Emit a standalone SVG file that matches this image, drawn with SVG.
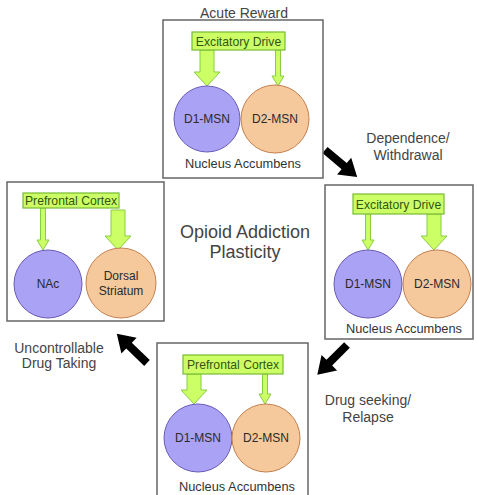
<svg xmlns="http://www.w3.org/2000/svg" xmlns:xlink="http://www.w3.org/1999/xlink" width="477" height="495" viewBox="0 0 477 495">
<style>
text{font-family:"Liberation Sans",Arial,sans-serif;fill:#333;text-anchor:middle}
.lbl{font-size:14px;fill:#444}
.title{font-size:18px;fill:#444}
.small{font-size:12.8px}
.cell{font-size:12px;fill:#2a2a2a}
.gtxt{font-size:12.2px;fill:#335511}
.box{fill:#fff;stroke:#666;stroke-width:1.5}
.gbox{fill:#ccff66;stroke:#77bb33;stroke-width:1.2}
.garrow{fill:#ccff66;stroke:#88cc44;stroke-width:1}
.d1{fill:#a9a2f5;stroke:#6a5cb8;stroke-width:1}
.d2{fill:#f5c99c;stroke:#c4804f;stroke-width:1}
.barrow{fill:#000}
</style>
<defs>
<path id="ba" d="M0,-4 L25,-4 L25,-11 L42,0 L25,11 L25,4 L0,4 Z"/>
</defs>
<rect width="477" height="495" fill="#fff"/>

<g id="connectors">
<use xlink:href="#ba" href="#ba" class="barrow" transform="translate(325,150) rotate(40)"/>
<use xlink:href="#ba" href="#ba" class="barrow" transform="translate(347,345) rotate(135)"/>
<use xlink:href="#ba" href="#ba" class="barrow" transform="translate(147,363) rotate(224)"/>
<text class="lbl" x="244" y="18">Acute Reward</text>
<text class="lbl" x="408" y="143">Dependence/</text>
<text class="lbl" x="408" y="160">Withdrawal</text>
<text class="lbl" x="368" y="405">Drug seeking/</text>
<text class="lbl" x="368" y="422">Relapse</text>
<text class="lbl" x="59" y="353">Uncontrollable</text>
<text class="lbl" x="59" y="368">Drug Taking</text>
</g>

<g id="center-title">
<text class="title" x="245" y="238">Opioid Addiction</text>
<text class="title" x="245" y="258">Plasticity</text>
</g>

<g id="acute-reward">
<rect class="box" x="163" y="20" width="160" height="158"/>
<polygon class="garrow" points="200,50 214,50 214,72 220,72 207,86 194,72 200,72"/>
<polygon class="garrow" points="275.5,50 280.5,50 280.5,76 284,76 278,86 272,76 275.5,76"/>
<rect class="gbox" x="192" y="32" width="93" height="18"/>
<text class="gtxt" x="238.5" y="45.5">Excitatory Drive</text>
<circle class="d1" cx="207" cy="119" r="33"/>
<circle class="d2" cx="275" cy="119" r="34"/>
<text class="cell" x="207" y="123">D1-MSN</text>
<text class="cell" x="275" y="123">D2-MSN</text>
<text class="small" x="243" y="168">Nucleus Accumbens</text>
</g>

<g id="dependence">
<rect class="box" x="325" y="185" width="148" height="154"/>
<polygon class="garrow" points="365.5,214 370.5,214 370.5,240 374,240 368,250 362,240 365.5,240"/>
<polygon class="garrow" points="427,214 441,214 441,236 447,236 434,250 421,236 427,236"/>
<rect class="gbox" x="353" y="194" width="91" height="20"/>
<text class="gtxt" x="398.5" y="208.5">Excitatory Drive</text>
<circle class="d1" cx="368" cy="284" r="34"/>
<circle class="d2" cx="437" cy="284" r="34"/>
<text class="cell" x="368" y="288">D1-MSN</text>
<text class="cell" x="437" y="288">D2-MSN</text>
<text class="small" x="404" y="333">Nucleus Accumbens</text>
</g>

<g id="drug-seeking">
<rect class="box" x="157" y="343" width="151" height="160"/>
<polygon class="garrow" points="187,374 201,374 201,390 207,390 194,404 181,390 187,390"/>
<polygon class="garrow" points="262.5,374 267.5,374 267.5,394 271,394 265,404 259,394 262.5,394"/>
<rect class="gbox" x="183" y="355" width="100" height="19"/>
<text class="gtxt" x="233" y="369">Prefrontal Cortex</text>
<circle class="d1" cx="198" cy="438" r="34"/>
<circle class="d2" cx="266" cy="438" r="34"/>
<text class="cell" x="198" y="442">D1-MSN</text>
<text class="cell" x="266" y="442">D2-MSN</text>
<text class="small" x="237" y="491">Nucleus Accumbens</text>
</g>

<g id="uncontrollable">
<rect class="box" x="7" y="182" width="157" height="139"/>
<polygon class="garrow" points="40.5,208 45.5,208 45.5,240 49,240 43,250 37,240 40.5,240"/>
<polygon class="garrow" points="111,210 125,210 125,236 131,236 118,250 105,236 111,236"/>
<rect class="gbox" x="23" y="193" width="96" height="15"/>
<text class="gtxt" x="71" y="205">Prefrontal Cortex</text>
<circle class="d1" cx="48" cy="284" r="34"/>
<circle class="d2" cx="121" cy="283" r="35"/>
<text class="cell" x="48" y="288">NAc</text>
<text class="cell" x="121" y="280">Dorsal</text>
<text class="cell" x="121" y="295">Striatum</text>
</g>
</svg>
